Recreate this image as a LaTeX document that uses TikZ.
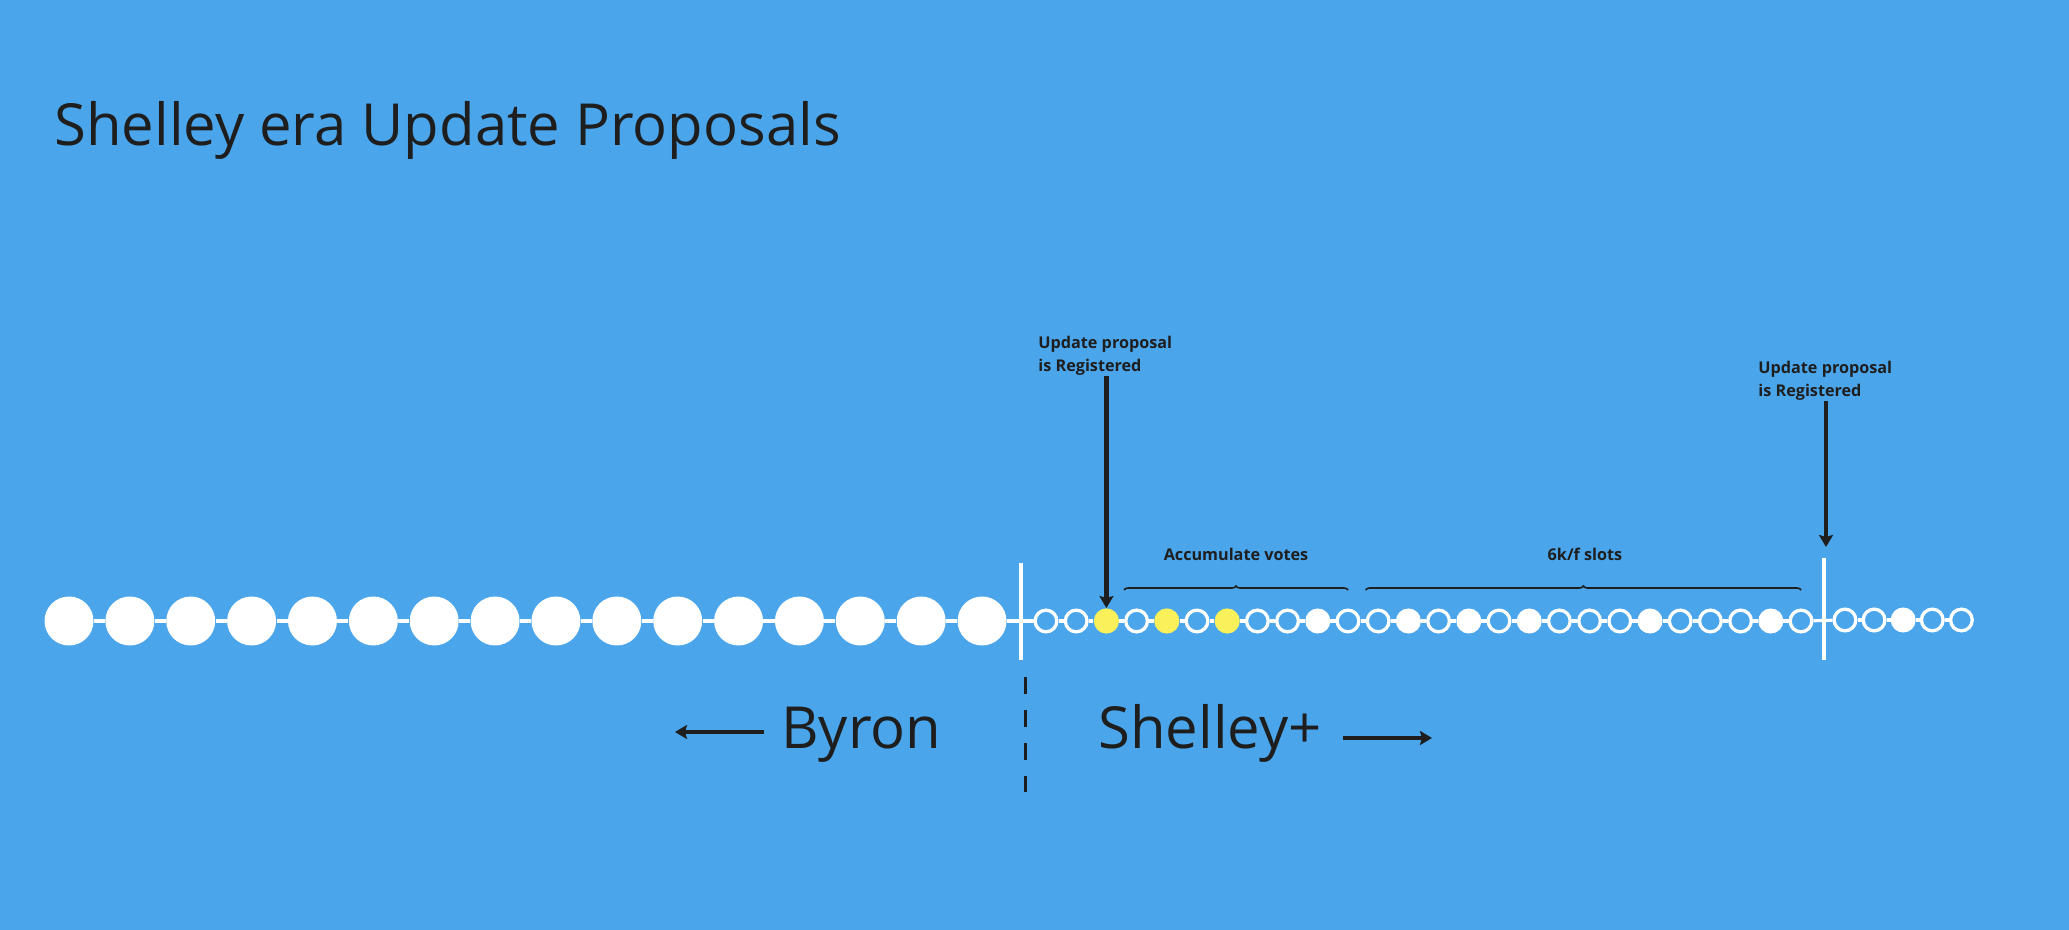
\documentclass[tikz,border=0pt]{standalone}
\usepackage{fontspec}
\setmainfont{Open Sans}
\usetikzlibrary{arrows.meta}
\usetikzlibrary{decorations.pathreplacing}

\definecolor{boardblue}{RGB}{74,165,235}
\definecolor{inkgrey}{RGB}{30,30,30}
\definecolor{voteyellow}{RGB}{250,240,90}

\begin{document}
\begin{tikzpicture}[x=0.5pt,y=-0.5pt,
    big slot/.style={circle,fill=white,minimum size=24.5pt,inner sep=0pt},
    open slot/.style={circle,draw=white,fill=boardblue,line width=1.65pt,minimum size=10.85pt,inner sep=0pt},
    full slot/.style={open slot,fill=white},
    vote slot/.style={circle,fill=voteyellow,minimum size=12.6pt,inner sep=0pt},
    chainline/.style={white,line width=1.6pt},
    cutline/.style={white,line width=2pt},
    pointer/.style={inkgrey,line width=2.1pt,-{Stealth[width=7pt,length=6pt,inset=1pt]}},
    eraarrow/.style={inkgrey,line width=2pt,-{Stealth[width=7pt,length=6pt,inset=1pt]}},
    slotbrace/.style={inkgrey,line width=0.8pt,decorate,decoration={brace,amplitude=2pt}},
    note/.style={inkgrey,font=\bfseries\fontsize{8.1}{11.5}\selectfont,align=left,inner sep=0pt},
    bigtext/.style={inkgrey,font=\fontsize{29}{34}\selectfont,inner sep=0pt}]
    % Board
    \fill[boardblue] (0,0) rectangle (2069,930);
    \node[bigtext,anchor=base west] (title) at (54,146) {Shelley era Update Proposals};

    % Byron blocks
    \foreach \i in {1,...,16}
        \node[big slot] (blk\i) at ({69+60.87*(\i-1)},621) {};

    % Shelley slots
    \foreach \k [count=\i from 17] in {open,open,vote,open,vote,open,vote,open,open,full,open,open,full,open,full,open,full,open,open,open,full,open,open,open,full,open}
        \node[\k\space slot] (blk\i) at ({1046+30.2*(\i-17)},621) {};
    \foreach \k [count=\i from 43] in {open,open,full,open,open}
        \node[\k\space slot] (blk\i) at ({1845+29.1*(\i-43)},620) {};

    % Chain
    \foreach \i [evaluate=\i as \j using {int(\i+1)}] in {1,...,46}
        \draw[chainline] (blk\i) -- (blk\j);

    % Cuts
    \coordinate (cut1top) at (1021,563);
    \coordinate (cut1bot) at (1021,660);
    \coordinate (cut2top) at (1824,558);
    \coordinate (cut2bot) at (1824,660);
    \draw[cutline] (cut1top) -- (cut1bot);
    \draw[cutline] (cut2top) -- (cut2bot);

    % Registered proposals
    \node[note,anchor=base west] (reg1) at (1038,372) {Update proposal\\is Registered};
    \node[note,anchor=base west] (reg2) at (1758,397) {Update proposal\\is Registered};
    \coordinate (hit2) at (1826,547);
    \draw[pointer] (reg1.south -| blk19) -- (blk19.north);
    \draw[pointer] (reg2.south -| hit2) -- (hit2);

    % Windows
    \coordinate (bracerow) at (0,590);
    \draw[slotbrace] (blk20.west |- bracerow) -- (blk27 |- bracerow);
    \draw[slotbrace] (blk28.west |- bracerow) -- (blk42 |- bracerow);
    \node[note,anchor=base] (votes) at (1236,561) {Accumulate votes};
    \node[note,anchor=base] (window) at (1585,561) {6k/f slots};

    % Eras
    \coordinate (eratop) at (1025,677);
    \coordinate (erabot) at (1025,792);
    \draw[inkgrey,line width=1.5pt,dash pattern=on 8.5pt off 8pt] (eratop) -- (erabot);
    \node[bigtext,anchor=base west] (byron) at (781,748) {Byron};
    \node[bigtext,anchor=base west] (shelley) at (1098,748) {Shelley+};
    \coordinate (byrontail) at (764,732);
    \coordinate (byronhead) at (675,732);
    \coordinate (shelleytail) at (1343,738);
    \coordinate (shelleyhead) at (1432,738);
    \draw[eraarrow] (byrontail) -- (byronhead);
    \draw[eraarrow] (shelleytail) -- (shelleyhead);
\end{tikzpicture}
\end{document}
